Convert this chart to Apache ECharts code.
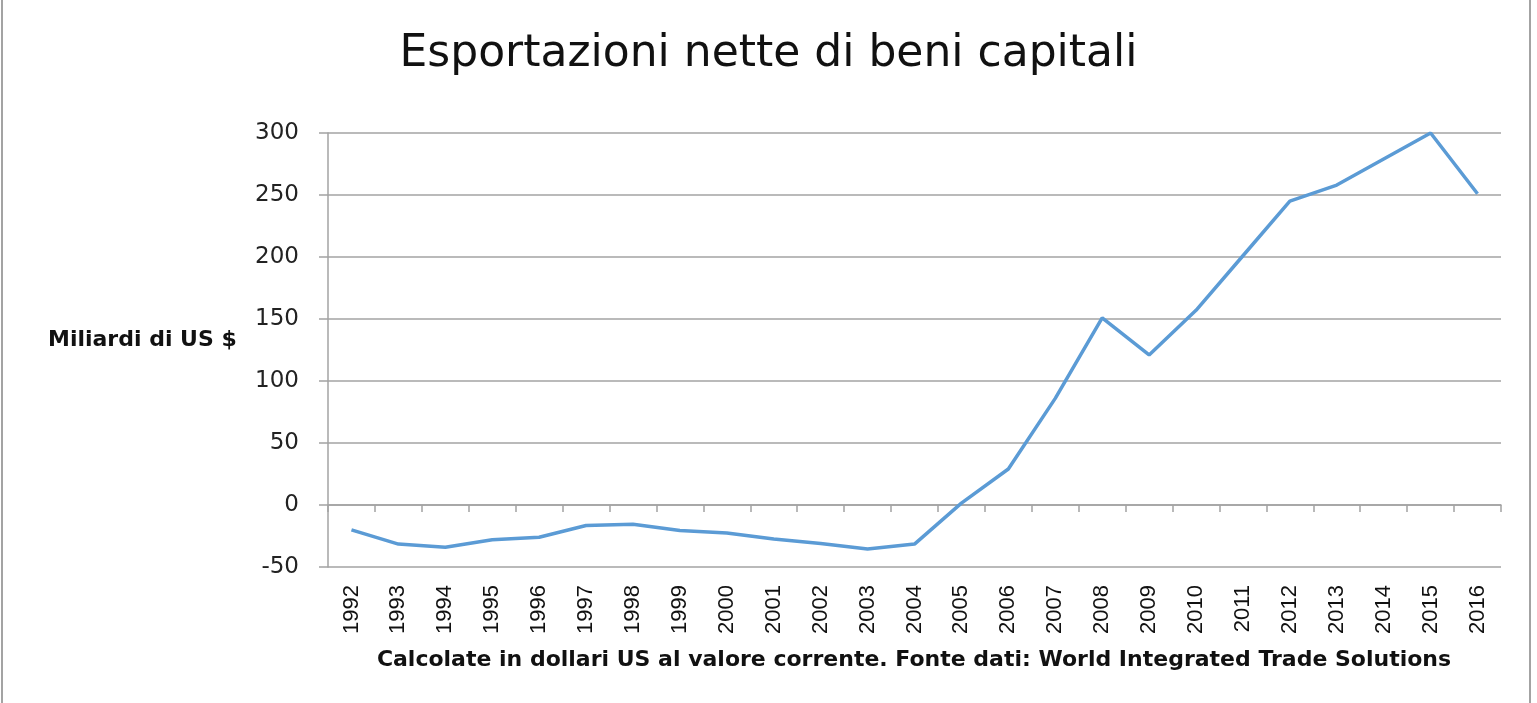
<!DOCTYPE html>
<html>
<head>
<meta charset="utf-8">
<script src="https://cdn.jsdelivr.net/npm/echarts@6/dist/echarts.min.js"></script>
<style>
html,body{margin:0;padding:0;background:#fff;}
#chart{width:1537px;height:703px;}
</style>
</head>
<body>
<div id="chart"></div>
<script>
const titleText = 'Esportazioni nette di beni capitali';
const yAxisTitle = 'Miliardi di US $';
const caption = 'Calcolate in dollari US al valore corrente. Fonte dati: World Integrated Trade Solutions';
const years = ['1992','1993','1994','1995','1996','1997','1998','1999','2000','2001','2002','2003','2004','2005','2006','2007','2008','2009','2010','2011','2012','2013','2014','2015','2016'];
const netExports = [-20,-31.5,-34,-28,-26,-16.5,-15.5,-20.5,-22.5,-27.5,-31,-35.5,-31.5,1.5,29,86,151,121,157,201,245,258,279,300,251];
const yTicks = {min:-50, max:300, interval:50};

const chart = echarts.init(document.getElementById('chart'));
const gray = '#a3a3a3';
chart.setOption({
  animation:false,
  backgroundColor:'#fff',
  title:[{
    text:titleText, left:'center', top:28, padding:5,
    textStyle:{fontFamily:'DejaVu Sans', fontSize:44, fontWeight:'normal', color:'#111'}
  }],
  graphic:[
    {type:'line', shape:{x1:2,y1:0,x2:2,y2:703}, style:{stroke:gray,lineWidth:2}},
    {type:'line', shape:{x1:1530,y1:0,x2:1530,y2:703}, style:{stroke:gray,lineWidth:2}},
    {type:'text', x:48, y:340, style:{text:yAxisTitle, font:'bold 22px "DejaVu Sans"', fill:'#111', textAlign:'left', textVerticalAlign:'middle'}},
    {type:'text', x:914, y:660, style:{text:caption, font:'bold 22px "DejaVu Sans"', fill:'#111', textAlign:'center', textVerticalAlign:'middle'}}
  ],
  grid:{left:328, right:36, top:133, bottom:136, containLabel:false},
  xAxis:[{
    type:'category', data:years, boundaryGap:true, position:'bottom',
    axisLine:{show:true, onZero:true, lineStyle:{color:gray, width:1.5}},
    axisTick:{show:true, inside:false, length:7, lineStyle:{color:gray, width:1.5}},
    axisLabel:{show:false},
    splitLine:{show:false}
  },{
    type:'category', data:years, boundaryGap:true, position:'bottom',
    axisLine:{show:false, onZero:false},
    axisTick:{show:false},
    axisLabel:{show:true, rotate:90, margin:18, fontFamily:'Liberation Sans', fontSize:22, color:'#111', interval:0},
    splitLine:{show:false}
  }],
  yAxis:{
    type:'value', min:yTicks.min, max:yTicks.max, interval:yTicks.interval,
    axisLine:{show:true, onZero:false, lineStyle:{color:gray, width:1.5}},
    axisTick:{show:true, length:9, lineStyle:{color:gray, width:1.5}},
    axisLabel:{margin:29, fontFamily:'DejaVu Sans', fontSize:23, color:'#222'},
    splitLine:{show:true, lineStyle:{color:gray, width:1.5}}
  },
  series:[{
    type:'line', data:netExports, xAxisIndex:0, symbol:'none', smooth:false,
    lineStyle:{color:'#5b9bd5', width:3.5}
  }]
});
</script>
</body>
</html>
